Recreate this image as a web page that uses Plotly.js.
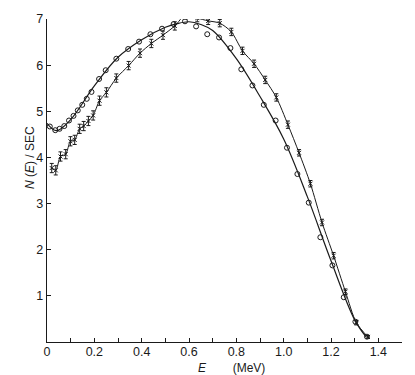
<!DOCTYPE html>
<html><head><meta charset="utf-8">
<script src="https://cdn.plot.ly/plotly-3.0.1.min.js"></script>
<style>body{margin:0;background:#fff}#c{width:415px;height:375px}</style>
</head><body><div id="c"></div>
<script>
// Open-circle series (points)
const circE = [0.012,0.035,0.053,0.073,0.093,0.112,0.13,0.149,0.168,0.188,0.22,0.248,0.293,0.343,0.389,0.437,0.486,0.535,0.583,0.63,0.677,0.727,0.775,0.821,0.868,0.916,0.966,1.014,1.058,1.106,1.155,1.206,1.254,1.303,1.352];
const circN = [4.67,4.59,4.62,4.68,4.80,4.90,5.02,5.14,5.27,5.42,5.70,5.89,6.14,6.35,6.51,6.67,6.79,6.89,6.95,6.84,6.67,6.60,6.37,5.91,5.56,5.14,4.80,4.21,3.64,3.02,2.27,1.66,0.97,0.44,0.115];
// Smooth curve drawn through the open-circle series
const curveE = [0,0.04,0.1,0.2,0.3,0.4,0.5,0.55,0.6,0.65,0.7,0.8,0.9,1.0,1.1,1.2,1.3,1.35];
const curveN = [4.74,4.58,4.82,5.55,6.17,6.55,6.82,6.90,6.94,6.88,6.75,6.14,5.32,4.40,3.15,1.76,0.48,0.1];
// Series with error bars
const barE = [0.02,0.037,0.057,0.079,0.099,0.117,0.138,0.155,0.175,0.195,0.222,0.251,0.293,0.345,0.393,0.441,0.49,0.54,0.586,0.635,0.681,0.73,0.779,0.826,0.875,0.922,0.969,1.018,1.065,1.113,1.162,1.211,1.261,1.307,1.356];
const barN = [3.77,3.72,4.02,4.07,4.35,4.38,4.62,4.68,4.79,4.91,5.23,5.41,5.72,5.99,6.26,6.47,6.65,6.85,7.09,7.02,6.96,6.91,6.72,6.31,6.03,5.68,5.30,4.71,4.10,3.43,2.59,1.87,1.09,0.42,0.11];
const barErr = [0.1,0.1,0.1,0.1,0.1,0.1,0.1,0.1,0.1,0.1,0.1,0.1,0.09,0.09,0.09,0.09,0.09,0.09,0.09,0.08,0.08,0.08,0.08,0.08,0.08,0.08,0.08,0.08,0.07,0.07,0.07,0.07,0.06,0.05,0.03];
// Axis ticks
const xTickVals = [0,0.1,0.2,0.3,0.4,0.5,0.6,0.7,0.8,0.9,1.0,1.1,1.2,1.3,1.4,1.5];
const xTickText = ["0","","0.2","","0.4","","0.6","","0.8","","1.0","","1.2","","1.4",""];
const yTickVals = [1,2,3,4,5,6,7];
const yTickText = ["1","2","3","4","5","6","7"];

const ink = '#1a1a1a';
const font = {family:'Liberation Sans, Arial, sans-serif', size:12, color:ink};
const tfont = {family:'Liberation Sans, Arial, sans-serif', size:12.5, color:ink};

const traces = [
  {x:curveE, y:curveN, mode:'lines', line:{color:ink, width:1.2, shape:'spline', smoothing:1}, hoverinfo:'skip'},
  {x:circE, y:circN, mode:'markers', marker:{symbol:'circle-open', size:5, color:ink, line:{width:1}}},
  {x:barE, y:barN, mode:'lines+markers', line:{color:ink, width:1, shape:'spline', smoothing:0.8},
   marker:{symbol:'x-thin-open', size:4, color:ink, line:{width:1, color:ink}},
   error_y:{type:'data', array:barErr, visible:true, color:ink, thickness:1, width:2}}
];

const layout = {
  width:415, height:375, showlegend:false,
  paper_bgcolor:'#fff', plot_bgcolor:'#fff',
  margin:{l:47, r:13, t:19, b:33},
  font:font,
  xaxis:{range:[0,1.5], showgrid:false, zeroline:false, showline:true, linecolor:ink, linewidth:1.2,
    ticks:'inside', ticklen:4, tickcolor:ink, tickvals:xTickVals, ticktext:xTickText, tickfont:tfont,
    ticklabelstandoff:-2},
  yaxis:{range:[0,7], showgrid:false, zeroline:false, showline:true, linecolor:ink, linewidth:1.2,
    ticks:'inside', ticklen:4, tickcolor:ink, tickvals:yTickVals, ticktext:yTickText, tickfont:tfont},
  annotations:[
    {text:'<i>N</i> (<i>E</i>) / SEC', textangle:-90, xref:'paper', yref:'paper',
     x:(30-47)/355, y:(342-158)/323, xanchor:'center', yanchor:'middle', showarrow:false, font:font},
    {text:'<i>E</i>        (MeV)', xref:'paper', yref:'paper',
     x:(231-47)/355, y:(342-368)/323, xanchor:'center', yanchor:'middle', showarrow:false, font:font}
  ]
};
Plotly.newPlot('c', traces, layout, {displayModeBar:false, staticPlot:true});
</script></body></html>
